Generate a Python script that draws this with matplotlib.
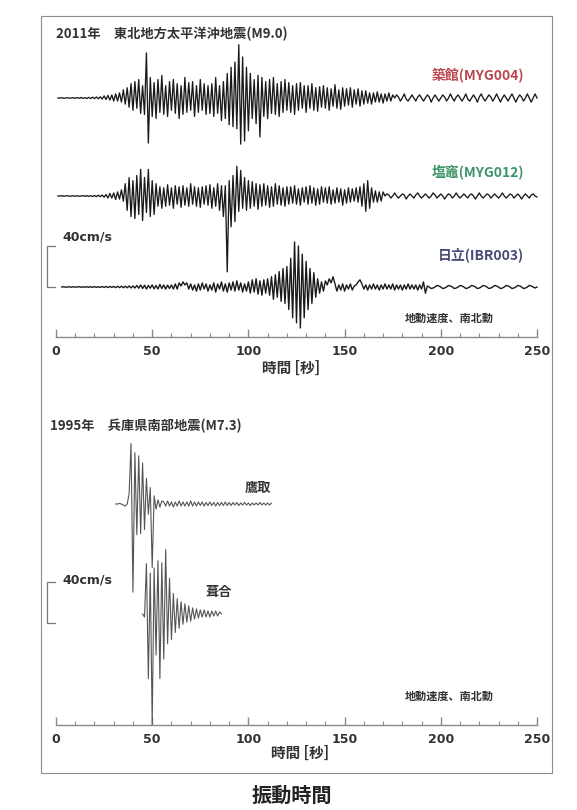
import matplotlib.pyplot as plt
from matplotlib.patches import Rectangle
import numpy as np

plt.rcParams['font.family'] = ['Noto Sans CJK JP', 'DejaVu Sans']

# velocity records (cm/s, NS component), one sample of the peak/trough per second
myg004_t0 = 1
myg004 = [0, 0, 0.3, -0.3, 0, 0.3, -0.2, 0, 0.3, -0.3, 0.4, -0.3, 0.5, -0.4, 0.3, -0.5, 0.6, -0.5, 0.8, -0.6, 1, -0.8, 1.2, -1,
          2, -1.5, 2.5, -2, 3, -3, 4, -3, 5, -4, 8,
          -6, 10, -9, 14, -12, 16, -10, 18, -15, 12, -16,
          44, -44,
          20, -18, 15, -20, 18, -14, 22, -16, 12, -18, 16, -12,
          18, -15, 14, -20, 12, -16, 20, -14, 15, -12,
          16, -18, 12, -14, 18, -12, 14, -16, 12, -15,
          14, -18, 20, -15, 12, -22, 16, -20, 24, -26,
          30, -28, 35, -30, 52, -45, 40, -42, 30, -32,
          24, -20, 18, -25, 22, -38, 20, -18, 16, -20,
          18, -15, 20, -16, 14, -18, 16, -14, 18, -12,
          15, -14, 12, -16, 14, -12, 15, -10, 12, -14,
          12, -10, 14, -12, 10, -13, 11, -9, 12, -10,
          10, -12, 9, -8, 13, -10, 8, -11, 10, -8,
          9, -7, 10, -9, 8, -6, 9, -8, 7, -6,
          7, -5, 5, -6, 5, -4, 6, -4, 4, -5, 4, -3, 5, -3, 3,
          0, 3, 1, -3, 0, 4, -1, -3, 0, 3, 0, -3, 1, 3, 0, -3, 0, 3, 1, -4,
          0, 3, 0, -3, 0, 3, 1, -3, 0, 4, 0, -3, 1, 3, 0, -3, 0, 4, -1, -3,
          0, 3, 0, -4, 1, 4, 0, -3, 0, 3, 1, -3, 0, 4, 0, -4, 0, 3, 0, -3,
          1, 4, 0, -4, 0, 3, 1, -3, 0, 4, 0, -4, 0, 4, 0]

myg012_t0 = 1
myg012 = [0, 0, 0.3, -0.2, 0, 0.3, -0.3, 0, 0.2, -0.2, 0.3, -0.3, 0, 0.3, -0.3, 0.4, -0.4, 0.3, -0.5, 0.5, -0.6, 0.8, -0.7, 1, -1.2,
          1.5, -2, 2.5, -2, 3, -3.5, 4, -3, 6, -5,
          12, -14, 18, -20, 15, -22, 20, -18, 26, -24, 18, -16, 26, -20, 15, -18, 12,
          -10, 9, -12, 8, -10, 11, -9, 8, -12, 10, -8, 9, -11, 10, -9, 8, -10, 12, -8, 9,
          -10, 8, -11, 9, -8, 10, -9, 11, -12, 8, -10, 12, -14, 10,
          -20, 10, -74, 15, -30, 20, -25, 29, -15, 25, -12,
          18, -14, 15, -12, 14, -10, 12, -13, 11, -10, 12, -9, 10, -11, 9, -10, 12, -8, 10, -9, 8, -10, 9,
          -8, 9, -7, 10, -8, 7, -9, 8, -6, 9, -8, 10, -7, 8, -9, 7, -8, 9, -6, 8,
          -7, 9, -8, 6, -7, 8, -6, 7, -9, 6, -7, 8, -6, 7, -5, 8, -6, 9, -10, 12,
          -15, 15, -12, 8, -6, 5, -6, 4, -5, 4,
          0, 2, 1, -2, 0, 3, 0, -2, 0, 2, 1, -3, 0, 2, 0, -2, 1, 3, 0, -2,
          0, 2, 0, -2, 0, 3, 1, -2, 0, 2, 0, -3, 0, 2, 1, -2, 0, 3, 0, -2,
          0, 2, 0, -2, 1, 2, 0, -3, 0, 3, 0, -2, 0, 2, 1, -2, 0, 2, 0, -2,
          0, 3, 0, -2, 0, 2, 1, -2, 0, 2, 0, -3, 0, 2, 0, -2, 1, 2, 0, -1]

ibr003_t0 = 3
ibr003 = [0, 0.2, -0.2, 0, 0.2, -0.2, 0.3, -0.2, 0, 0.3, -0.3, 0.2, -0.2, 0.3, -0.3, 0.3, -0.3, 0.4, -0.4, 0.3,
          -0.4, 0.5, -0.4, 0.5, -0.5, 0.6, -0.5, 0.6, -0.6, 0.7, -0.6, 0.8, -0.7, 0.8, -0.8, 1, -0.9, 1,
          -1, 1.5, -1.2, 2, -1.5, 1.8, -2, 1.5, -1.2, 2, -1.8, 1.5, -2, 2.5, -1.5, 2, -2, 1.8, -1.5, 2,
          -2, 3, -2, 4, 1, 5, 2, 4, -2, 3, -3, 2, -4, 3, -3, 4, -2, 3, -4, 2,
          -3, 4, -5, 3, -2, 5, -4, 3, -5, 4, -3, 5, -4, 6, -3, 4, -5, 3, -4, 5,
          -6, 7, -5, 8, -7, 6, -8, 7, -6, 8, -8,
          10, -12, 12, -10, 15, -14, 18, -16,
          20, -22, 28, -30, 44, -35, 40, -40, 32, -30, 25, -22, 18, -16, 14, -10, 8,
          -6, 5, -4, 6, 2, 8, 4, 10, 3,
          -4, 2, -3, 3, -4, 2, -2, 3, -3, 1, 2, 5, 7, 3, -2,
          2, -3, 2, -2, 3, -2, 2, -3, 2, -2, 3, -2, 2, -2, 3, -3, 2, -2, 2, -3,
          2, -2, 3, -2, 2, -2, 2, -3, 2, -2,
          5, -6,
          1, 0, -1.5, -1, 0, 1.5, 1, 0, -1.5, -1, 0, 1.5, 1, 0, -1.5, -1, 0, 1.5, 1, 0,
          -1.5, -1, 0, 1.5, 1, 0, -1.5, -1, 0, 1.5, 1, 0, -1.5, -1, 0, 1.5, 1, 0, -1.5, -1,
          0, 1.5, 1, 0, -1.5, -1, 0, 1.5, 1, 0, -1.5, -1, 0, 1.5, 1, 0, -1, 0]

takatori_t0 = 31
takatori = [0, 0, 0.5, 0, -1, -2, 0,
            10, 59, -86, 50, -30, 47, -29, 40, -25, 25, -10, 16, -62, 8, -5, 4, -3, 3,
            2, -2, 3, -2, 2, -3, 2, -2, 3, -2, 2, -2, 2, -2, 3, -2, 2, -2, 2, -1.5,
            2, -2, 1.5, -1.5, 2, -1.5, 1.5, -2, 1.5, -1.5, 1.5, -1.5, 2, -1.5, 1.5, -1.5,
            1.5, -1, 1.5, -1.5, 1, -1, 1.5, -1, 1, -1.5, 1, -1, 1, -1, 1.5, -1, 1, -1, 1, -1, 1]

fukiai_t0 = 45
fukiai = [0, -3, 49, -63, 40, -108, 45, -40, 52, -63, 50, -44, 63, -29, 35, -25, 20, -18, 15, -14,
          12, -10, 10, -8, 8, -7, 6, -5, 5, -4, 4, -3, 4, -3, 3, -3, 3, -2, 3, -2, 2, 0]

xticks = [0, 50, 100, 150, 200, 250]

W, H = 577, 810
fig = plt.figure(figsize=(W / 100, H / 100), dpi=100)


def fx(x):
    return x / W


def fy(y):
    return 1 - y / H


# 40 cm/s spans 41 px
PXCM = 41 / 40


def panel(top, bottom, base):
    ax = fig.add_axes([fx(56), fy(bottom), fx(537) - fx(56), fy(top) - fy(bottom)])
    ax.set_xlim(0, 250)
    ax.set_ylim(-(bottom - base) / PXCM, (base - top) / PXCM)
    for s in ['top', 'left', 'right']:
        ax.spines[s].set_visible(False)
    ax.spines['bottom'].set_color('#8a8a8a')
    ax.spines['bottom'].set_linewidth(1.0)
    ax.set_yticks([])
    ax.set_xticks(xticks)
    ax.set_xticks(np.arange(0, 251, 10), minor=True)
    ax.tick_params(axis='x', which='major', direction='in', length=6, width=1, color='#8a8a8a',
                   pad=6, labelsize=9, labelcolor='#333333')
    ax.tick_params(axis='x', which='minor', direction='in', length=3, width=0.8, color='#8a8a8a')
    for lab in ax.get_xticklabels():
        lab.set_fontweight('bold')
        lab.set_family(['DejaVu Sans'])
    ax.patch.set_alpha(0)
    return ax


def trace(ax, t0, vals, offset, color, lw):
    t = t0 + np.arange(len(vals))
    ax.plot(t, offset + np.array(vals), color=color, lw=lw, clip_on=False)


def scale_bar(ax, y0):
    ax.plot([-0.5, -4.7, -4.7, -0.5], [y0, y0, y0 + 40, y0 + 40], color='#777777', lw=0.9, clip_on=False)


# 2011 Tohoku
ax1 = panel(20, 337, 287)
trace(ax1, myg004_t0, myg004, (287 - 98) / PXCM, '#1a1a1a', 0.95)
trace(ax1, myg012_t0, myg012, (287 - 196) / PXCM, '#1a1a1a', 0.95)
trace(ax1, ibr003_t0, ibr003, 0, '#1a1a1a', 1.0)
scale_bar(ax1, 0)

# 1995 Kobe
ax2 = panel(400, 725, 614)
trace(ax2, takatori_t0, takatori, (614 - 504) / PXCM, '#555555', 0.8)
trace(ax2, fukiai_t0, fukiai, 0, '#555555', 0.8)
scale_bar(ax2, (614 - 623) / PXCM)

txt = dict(fontweight='bold', color='#333333')
fig.text(fx(56), fy(34), '2011年　東北地方太平洋沖地震(M9.0)', fontsize=9.5, va='center', ha='left', **txt)
fig.text(fx(50), fy(426), '1995年　兵庫県南部地震(M7.3)', fontsize=9.5, va='center', ha='left', **txt)

fig.text(fx(524), fy(75), '築館(MYG004)', fontsize=10, va='center', ha='right', fontweight='bold', color='#b9484e')
fig.text(fx(524), fy(173), '塩竈(MYG012)', fontsize=10, va='center', ha='right', fontweight='bold', color='#3b9468')
fig.text(fx(524), fy(255), '日立(IBR003)', fontsize=10, va='center', ha='right', fontweight='bold', color='#474a76')

fig.text(fx(258), fy(488), '鷹取', fontsize=9.5, va='center', ha='center', **txt)
fig.text(fx(219), fy(592), '葺合', fontsize=9.5, va='center', ha='center', **txt)

for y in (237, 580):
    fig.text(fx(62), fy(y), '40cm/s', fontsize=9, va='center', ha='left', family=['DejaVu Sans'], **txt)
for y in (318, 696):
    fig.text(fx(449), fy(y), '地動速度、南北動', fontsize=8, va='center', ha='center', **txt)

fig.text(fx(291), fy(368), '時間 [秒]', fontsize=10.5, va='center', ha='center', **txt)
fig.text(fx(300), fy(753), '時間 [秒]', fontsize=10.5, va='center', ha='center', **txt)

fig.patches.append(Rectangle((fx(41), fy(773)), fx(552) - fx(41), fy(16) - fy(773),
                             transform=fig.transFigure, fill=False, edgecolor='#8c8c8c', lw=0.8))
fig.text(fx(292), fy(795), '振動時間', fontsize=14.5, va='center', ha='center', fontweight='bold', color='#222222')

fig.savefig('out.png', dpi=100)
